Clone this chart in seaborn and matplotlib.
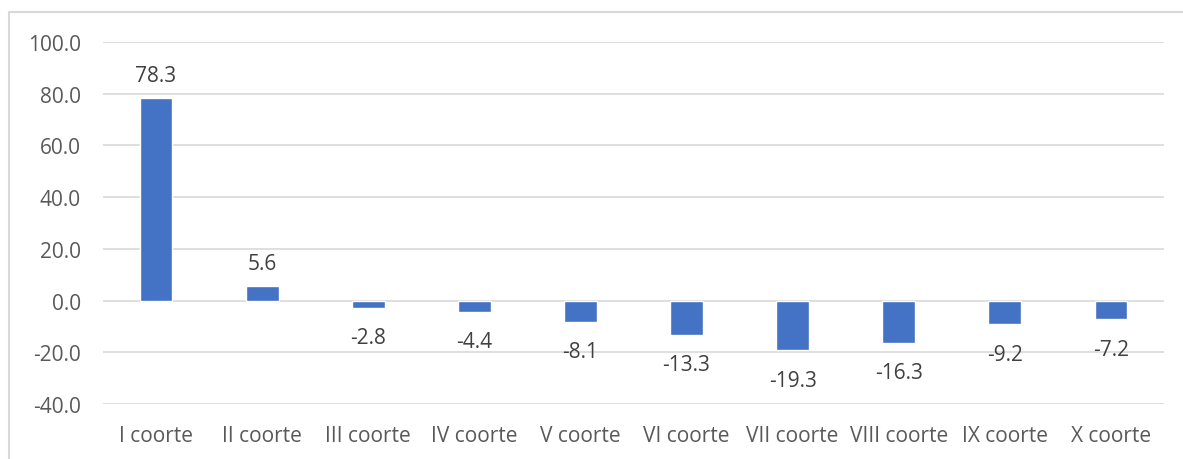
import matplotlib
matplotlib.use("Agg")
import matplotlib.pyplot as plt
import seaborn as sns
import pandas as pd
from matplotlib.lines import Line2D

# data
cohorts = ["I coorte", "II coorte", "III coorte", "IV coorte", "V coorte",
           "VI coorte", "VII coorte", "VIII coorte", "IX coorte", "X coorte"]
values = [78.3, 5.6, -2.8, -4.4, -8.1, -13.3, -19.3, -16.3, -9.2, -7.2]
yticks = [-40, -20, 0, 20, 40, 60, 80, 100]

df = pd.DataFrame({"coorte": cohorts, "valore": values})

sns.set_style("white")
plt.rcParams["font.family"] = ["Open Sans", "DejaVu Sans"]

fig = plt.figure(figsize=(11.83, 4.6), dpi=100)
ax = fig.add_axes([103 / 1183, 1 - 405 / 460, (1164 - 103) / 1183, (405 - 43) / 460])

sns.barplot(data=df, x="coorte", y="valore", color="#4472C4", width=0.31,
            saturation=1, ax=ax, zorder=3)

ax.set_ylim(-40, 100)
ax.set_yticks(yticks)
ax.set_yticklabels([f"{t:.1f}" for t in yticks])
ax.yaxis.grid(True, color="#d9d9d9", linewidth=1.2, zorder=0)
ax.set_axisbelow(True)
for s in ax.spines.values():
    s.set_visible(False)
ax.tick_params(axis="both", length=0, labelsize=15, colors="#595959")
ax.tick_params(axis="y", pad=16)
ax.tick_params(axis="x", pad=15)
ax.set_xlabel("")
ax.set_ylabel("")

# value labels: a bit more room under the negative bars
bars = ax.containers[0]
ax.bar_label(bars, labels=[f"{v:.1f}" if v >= 0 else "" for v in values],
             padding=9, fontsize=15, color="#404040")
ax.bar_label(bars, labels=[f"{v:.1f}" if v < 0 else "" for v in values],
             padding=14, fontsize=15, color="#404040")

# chart frame like the spreadsheet export
fig.add_artist(Line2D([9 / 1183, 9 / 1183], [0, 1 - 13 / 460], color="#d9d9d9", lw=1.5))
fig.add_artist(Line2D([9 / 1183, 1], [1 - 13 / 460, 1 - 13 / 460], color="#d9d9d9", lw=1.5))

fig.savefig("out.png", dpi=100)
